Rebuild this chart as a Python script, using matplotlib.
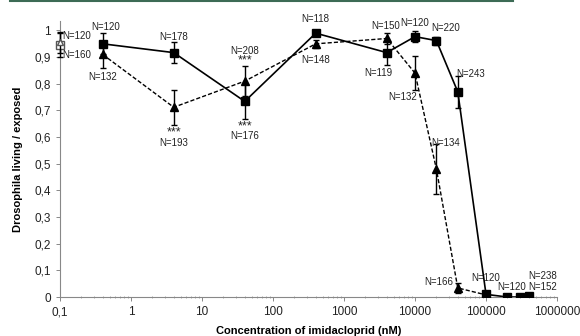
import numpy as np
import matplotlib
matplotlib.use("Agg")
import matplotlib.pyplot as plt
from matplotlib.ticker import FixedLocator, FuncFormatter, LogLocator, NullFormatter

plt.rcParams['font.family'] = ['Liberation Sans', 'DejaVu Sans']

# control (shown at 0.1 nM)
ctrl_x = 0.1
ctrl_sq, ctrl_sq_err = 0.945, 0.045
ctrl_tri, ctrl_tri_err = 0.955, 0.04

# squares, solid line
sq_x = [0.4, 4, 40, 400, 4000, 10000, 20000, 40000, 100000, 200000, 300000, 400000]
sq_y = [0.95, 0.917, 0.734, 0.99, 0.917, 0.977, 0.962, 0.77, 0.01, 0.0, 0.0, 0.003]
sq_err = [0.04, 0.04, 0.065, 0.01, 0.045, 0.02, 0.015, 0.06, 0.005, 0.003, 0.003, 0.003]
sq_n = ["N=120", "N=178", "N=176", "N=118", "N=119", "N=120", "N=220", "N=243",
        "N=120", "N=120", "N=238", "N=152"]

# triangles, dashed line
tri_x = [0.4, 4, 40, 400, 4000, 10000, 20000, 40000, 100000]
tri_y = [0.91, 0.712, 0.81, 0.95, 0.97, 0.84, 0.48, 0.034, 0.008]
tri_err = [0.05, 0.065, 0.055, 0.015, 0.02, 0.065, 0.095, 0.02, 0.0]
tri_n = ["N=132", "N=193", "N=208", "N=148", "N=150", "N=132", "N=134", "N=166", ""]

ytick_vals = [0, 0.1, 0.2, 0.3, 0.4, 0.5, 0.6, 0.7, 0.8, 0.9, 1.0]
xtick_vals = [0.1, 1, 10, 100, 1000, 10000, 100000, 1000000]

fig = plt.figure(figsize=(5.8, 3.36), dpi=100)
ax = fig.add_axes([0.1034, 0.116, 0.857, 0.821])

ekw = dict(ecolor='black', elinewidth=1.0, capsize=2, capthick=1.0)

ax.errorbar(tri_x, tri_y, yerr=tri_err, fmt='^', color='black', ls=(0, (3, 1.5)),
            lw=1.0, ms=6, zorder=3, **ekw)
ax.errorbar(sq_x, sq_y, yerr=sq_err, fmt='s', color='black', ls='-',
            lw=1.2, ms=6, zorder=4, **ekw)

# control markers (open)
ax.errorbar([ctrl_x], [ctrl_sq], yerr=[ctrl_sq_err], fmt='s', mfc='white', mec='#555555',
            ms=6, clip_on=False, zorder=5, **ekw)
ax.errorbar([ctrl_x], [ctrl_tri], yerr=[ctrl_tri_err], fmt='^', mfc='white', mec='#555555',
            ms=5, clip_on=False, zorder=6, **ekw)

ax.set_xscale('log')
ax.set_xlim(0.1, 1000000)
ax.set_ylim(0, 1.035)

ax.xaxis.set_major_locator(FixedLocator(xtick_vals))
ax.xaxis.set_minor_locator(LogLocator(base=10, subs=np.arange(2, 10)))
ax.xaxis.set_minor_formatter(NullFormatter())
ax.xaxis.set_major_formatter(FuncFormatter(lambda v, p: ('%g' % v).replace('.', ',') if v < 1 else '%d' % v))
ax.yaxis.set_major_locator(FixedLocator(ytick_vals))
ax.yaxis.set_major_formatter(FuncFormatter(lambda v, p: ('%g' % round(v, 1)).replace('.', ',')))

for s in ['top', 'right']:
    ax.spines[s].set_visible(False)
for s in ['left', 'bottom']:
    ax.spines[s].set_color('#888888')
    ax.spines[s].set_linewidth(0.8)
ax.tick_params(axis='both', which='major', length=3, width=0.7, color='#888888',
               labelsize=8.5, labelcolor='#222222', direction='out')
ax.tick_params(axis='x', which='minor', length=2, width=0.5, color='#888888', direction='inout')

ax.set_xlabel('Concentration of imidacloprid (nM)', fontsize=8, fontweight='bold', labelpad=6)
ax.set_ylabel('Drosophila living / exposed', fontsize=8, fontweight='bold', labelpad=8)

# N labels (offsets in points)
fs = 7
def lab(x, y, t, dx=0, dy=0, ha='center', size=fs):
    ax.annotate(t, (x, y), xytext=(dx, dy), textcoords='offset points',
                ha=ha, va='center', fontsize=size, color='#222222', annotation_clip=False)

lab(ctrl_x, ctrl_tri, "N=120", 2, 5, 'left')
lab(ctrl_x, ctrl_sq, "N=160", 2, -7, 'left')

sq_off = [(2, 12), (0, 11), (0, -25), (0, 10), (-6, -15), (0, 10), (7, 9), (9, 13),
          (0, 11.5), (3, 7), (16, 15), (10, 7)]
for x, y, t, (dx, dy) in zip(sq_x, sq_y, sq_n, sq_off):
    lab(x, y, t, dx, dy)

tri_off = [(0, -16), (0, -26), (0, 22), (0, -12), (-1, 9), (-9, -17), (7, 19), (-14, 4), (0, 0)]
for x, y, t, (dx, dy) in zip(tri_x, tri_y, tri_n, tri_off):
    if t:
        lab(x, y, t, dx, dy)

# significance stars
lab(4, 0.712, "***", 0, -18, size=9)
lab(40, 0.81, "***", 0, 15, size=9)
lab(40, 0.734, "***", 0, -18, size=9)

# thin green rule at the top of the image
fig.add_artist(plt.Line2D([0.017, 0.885], [0.998, 0.998], color='#3d6b55', lw=1.5,
                          transform=fig.transFigure))

fig.savefig('out.png', dpi=100)
